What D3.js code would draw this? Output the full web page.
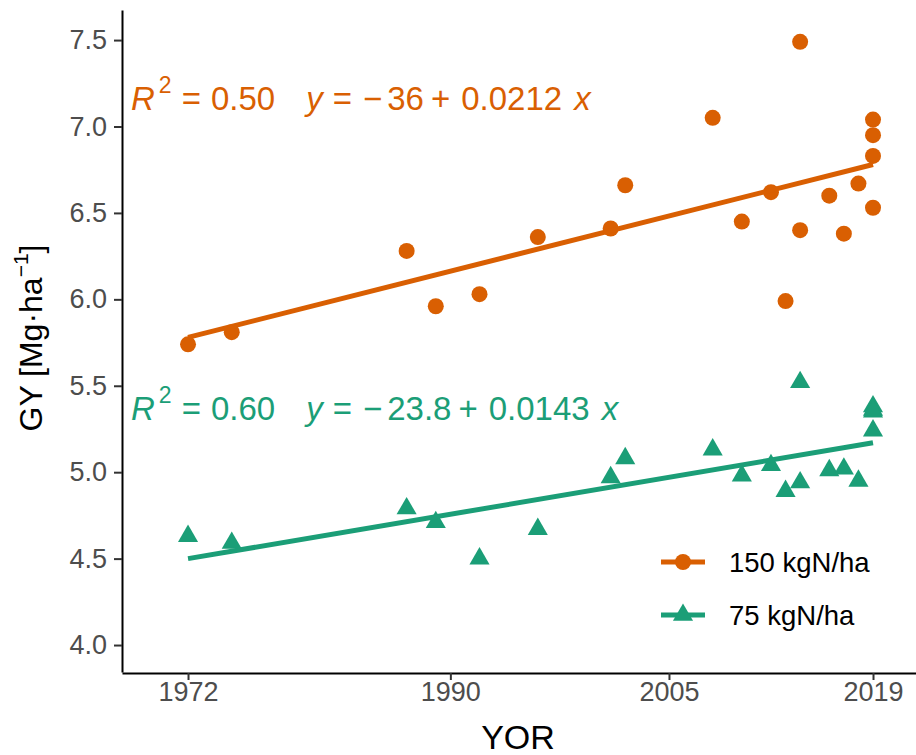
<!DOCTYPE html>
<meta charset="utf-8">
<script src="https://d3js.org/d3.v7.min.js"></script>
<style>
    body { margin: 0; background: #fff; }
    svg { font-family: "Liberation Sans", Arial, sans-serif; }
    .tick text { fill: #4D4D4D; font-size: 27px; }
    .tick line { stroke: #333; stroke-width: 2px; }
    .domain { stroke: #000; stroke-width: 2px; }
</style>
<div id="my_dataviz"></div>
<script>
    // data
    const years150 = [1972, 1975, 1987, 1989, 1992, 1996, 2001, 2002, 2008, 2010, 2012,
                      2013, 2014, 2014, 2016, 2017, 2018, 2019, 2019, 2019, 2019]
    const gy150 = [5.74, 5.81, 6.28, 5.96, 6.03, 6.36, 6.41, 6.66, 7.05, 6.45, 6.62,
                   5.99, 7.49, 6.40, 6.60, 6.38, 6.67, 7.04, 6.95, 6.83, 6.53]
    const years75 = [1972, 1975, 1987, 1989, 1992, 1996, 2001, 2002, 2008, 2010, 2012,
                     2013, 2014, 2014, 2016, 2017, 2018, 2019, 2019, 2019, 2019]
    const gy75 = [4.63, 4.59, 4.79, 4.71, 4.50, 4.67, 4.97, 5.08, 5.13, 4.98, 5.04,
                  4.89, 5.52, 4.94, 5.01, 5.02, 4.95, 5.38, 5.36, 5.35, 5.24]

    // fitted lines (ends of the drawn regression lines)
    const fitYears = [1972, 2019]
    const fit150 = [5.78, 6.78]
    const fit75 = [4.50, 5.17]

    const seriesNames = ["150 kgN/ha", "75 kgN/ha"]
    const seriesColors = ["#D95F02", "#1B9E77"]
    const r2Labels = ["0.50", "0.60"]
    const interceptLabels = ["\u221236", "\u221223.8"]
    const slopeLabels = ["0.0212", "0.0143"]
    const labelY = [7.095, 5.302]   // baseline of the equation labels, in GY units

    const xTicks = [1972, 1990, 2005, 2019]
    const yTicks = [4.0, 4.5, 5.0, 5.5, 6.0, 6.5, 7.0, 7.5]

    const margin = {top: 10, right: 0, bottom: 83, left: 122},
          width = 916 - margin.left - margin.right,
          height = 755 - margin.top - margin.bottom;

    const svg = d3.select("#my_dataviz")
                  .append("svg")
                    .attr("width", 916)
                    .attr("height", 755)
                  .append("g")
                    .attr("transform", `translate(${margin.left},${margin.top})`);

    const x = d3.scaleLinear().domain([1967.47, 2021.95]).range([0, width])
    const y = d3.scaleLinear().domain([3.844, 7.674]).range([height, 0])

    // axes
    svg.append("g")
        .attr("transform", `translate(0,${height + 1})`)
        .call(d3.axisBottom(x).tickValues(xTicks).tickFormat(d3.format("d"))
              .tickSize(7).tickSizeOuter(0).tickPadding(2))
    svg.append("g")
        .call(d3.axisLeft(y).tickValues(yTicks).tickFormat(d3.format(".1f"))
              .tickSize(8).tickSizeOuter(0).tickPadding(7))
    svg.selectAll(".domain").attr("stroke", "#000")

    // axis titles
    svg.append("text")
        .attr("x", width / 2 - 1)
        .attr("y", height + 77)
        .attr("text-anchor", "middle")
        .style("font-size", "34px")
        .text("YOR")

    const yt = svg.append("text")
        .attr("transform", `translate(${42 - margin.left},${height / 2 - 3}) rotate(-90)`)
        .attr("text-anchor", "middle")
        .style("font-size", "32px")
    yt.append("tspan").text("GY [Mg\u00B7ha")
    yt.append("tspan").attr("dy", -14).style("font-size", "21px").text("\u22121")
    yt.append("tspan").attr("dy", 14).text("]")

    const series = [
        {years: years150, gy: gy150, fit: fit150},
        {years: years75, gy: gy75, fit: fit75}
    ]

    const line = d3.line().x(d => x(d[0])).y(d => y(d[1]))
    const tri = d3.symbol().type(d3.symbolTriangle).size(175)

    series.forEach(function(s, i) {
        const pts = s.years.map((yr, j) => [yr, s.gy[j]])
        if (i === 0) {
            svg.selectAll("circle.p150")
                .data(pts)
                .join("circle")
                  .attr("class", "p150")
                  .attr("cx", d => x(d[0]))
                  .attr("cy", d => y(d[1]))
                  .attr("r", 8)
                  .style("fill", seriesColors[i])
        } else {
            svg.selectAll("path.p75")
                .data(pts)
                .join("path")
                  .attr("class", "p75")
                  .attr("d", tri)
                  .attr("transform", d => `translate(${x(d[0])},${y(d[1])})`)
                  .style("fill", seriesColors[i])
        }
        svg.append("path")
            .datum(fitYears.map((yr, j) => [yr, s.fit[j]]))
            .attr("d", line)
            .style("fill", "none")
            .style("stroke", seriesColors[i])
            .style("stroke-width", 5)
    })

    // equation labels, plotmath style
    labelY.forEach(function(ly, i) {
        const t = svg.append("text")
            .attr("x", 131 - margin.left)
            .attr("y", y(ly))
            .style("font-size", "33px")
            .style("fill", seriesColors[i])
        t.append("tspan").style("font-style", "italic").text("R")
        t.append("tspan").attr("dx", 4).attr("dy", -17).style("font-size", "23px").text("2")
        t.append("tspan").attr("dx", 10).attr("dy", 17).text("=")
        t.append("tspan").attr("dx", 10).text(r2Labels[i])
        t.append("tspan").attr("dx", 31).style("font-style", "italic").text("y")
        t.append("tspan").attr("dx", 10).text("=")
        t.append("tspan").attr("dx", 11).text(interceptLabels[i].charAt(0))
        t.append("tspan").attr("dx", 5).text(interceptLabels[i].slice(1))
        t.append("tspan").attr("dx", 7).text("+")
        t.append("tspan").attr("dx", 11).text(slopeLabels[i])
        t.append("tspan").attr("dx", 12).style("font-style", "italic").text("x")
    })

    // legend
    const legend = svg.append("g").attr("transform", `translate(${661 - margin.left},${562 - margin.top})`)
    seriesNames.forEach(function(name, i) {
        const g = legend.append("g").attr("transform", `translate(0,${i * 53})`)
        g.append("line")
            .attr("x1", 0).attr("x2", 44)
            .style("stroke", seriesColors[i])
            .style("stroke-width", 5)
        if (i === 0) {
            g.append("circle").attr("cx", 22).attr("r", 8).style("fill", seriesColors[i])
        } else {
            g.append("path").attr("d", tri).attr("transform", "translate(22,0)").style("fill", seriesColors[i])
        }
        g.append("text")
            .attr("x", 68)
            .attr("y", 10)
            .style("font-size", "27.5px")
            .style("fill", "#000")
            .text(name)
    })
</script>
